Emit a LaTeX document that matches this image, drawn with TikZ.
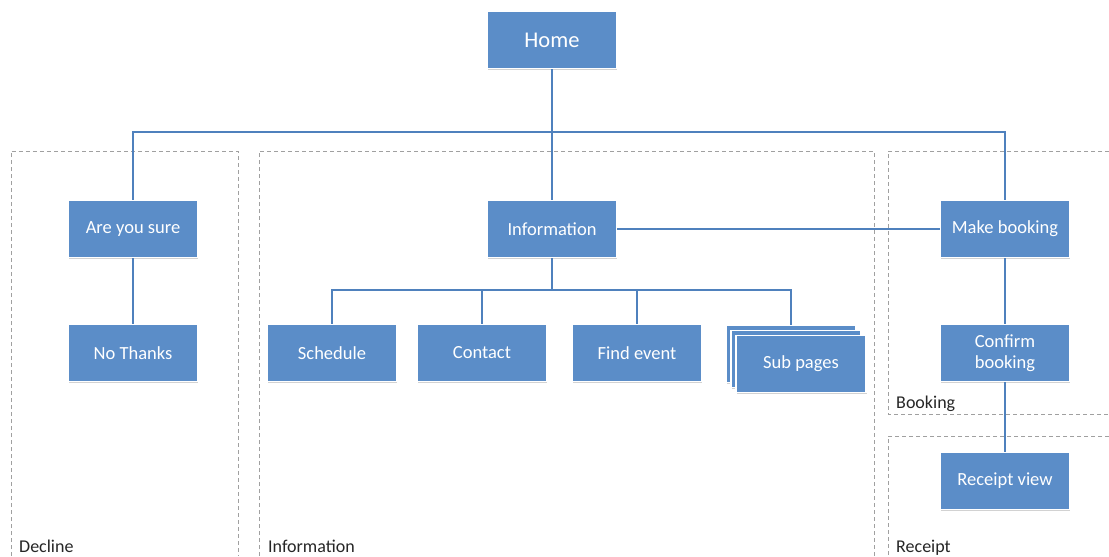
\documentclass[tikz,border=0pt]{standalone}
\usepackage{fontspec}
\setmainfont{Carlito}
\usetikzlibrary{shadows}
\definecolor{boxblue}{HTML}{5B8DC8}
\definecolor{linkblue}{HTML}{4F81BD}
\definecolor{groupgray}{HTML}{A0A0A0}
\begin{document}
\begin{tikzpicture}[x=1pt,y=-1pt,
  page/.style={rectangle, fill=boxblue, draw=white, line width=1.6pt,
    minimum width=129pt, minimum height=57pt, text=white, align=center,
    font=\fontsize{18.5}{21}\selectfont,
    drop shadow={shadow xshift=0.6pt, shadow yshift=-1.2pt, opacity=0.35}},
  link/.style={draw=linkblue, line width=1.8pt},
  group/.style={draw=groupgray, dashed, line width=0.8pt, dash pattern=on 4pt off 3pt},
  grouplabel/.style={anchor=base west, inner sep=0pt, font=\fontsize{18}{20}\selectfont, text=black!85}]
\useasboundingbox (0,0) rectangle (1109,557);
\fill[white] (0,0) rectangle (1109,557);

% dashed group frames
\draw[group] (11,556) |- (238,151) -- (238,556);
\draw[group] (259,556) |- (874,151) -- (874,556);
\draw[group] (1109,151) -| (888,414) -- (1109,414);
\draw[group] (1109,436) -| (888,556);
\node[grouplabel] (gdecline) at (19,552) {Decline};
\node[grouplabel] (ginfo) at (268,552) {Information};
\node[grouplabel] (gbooking) at (896,408) {Booking};
\node[grouplabel] (greceipt) at (896,552) {Receipt};

% pages
\node[page, font=\fontsize{22.5}{24}\selectfont] (home) at (552,40) {Home};
\node[page] (sure) at (133,229) {Are you sure};
\node[page] (info) at (552,229) {Information};
\node[page] (make) at (1005,229) {Make booking};
\node[page] (nothanks) at (133,353) {No Thanks};
\node[page] (schedule) at (332,353) {Schedule};
\node[page] (contact) at (482,353) {Contact};
\node[page] (find) at (637,353) {Find event};
\node[page, minimum width=130pt] (sub3) at (791,354) {};
\node[page, minimum width=130pt] (sub2) at (796,359) {};
\node[page, minimum width=130pt] (sub) at (801,364) {Sub pages};
\node[page] (confirm) at (1005,353) {Confirm\\booking};
\node[page] (receipt) at (1005,481) {Receipt view};

% connectors
\coordinate (topbus) at (552,132);
\coordinate (infobus) at (552,290);
\draw[link] (home.south) -- (topbus);
\draw[link] (sure.north) |- (topbus) -| (make.north);
\draw[link] (topbus) -- (info.north);
\draw[link] (info.east) -- (make.west);
\draw[link] (sure.south) -- (nothanks.north);
\draw[link] (info.south) -- (infobus);
\draw[link] (schedule.north) |- (infobus) -| (sub3.north);
\draw[link] (contact.north) -- (contact.north |- infobus);
\draw[link] (find.north) -- (find.north |- infobus);
\draw[link] (make.south) -- (confirm.north);
\draw[link] (confirm.south) -- (receipt.north);
\end{tikzpicture}
\end{document}
